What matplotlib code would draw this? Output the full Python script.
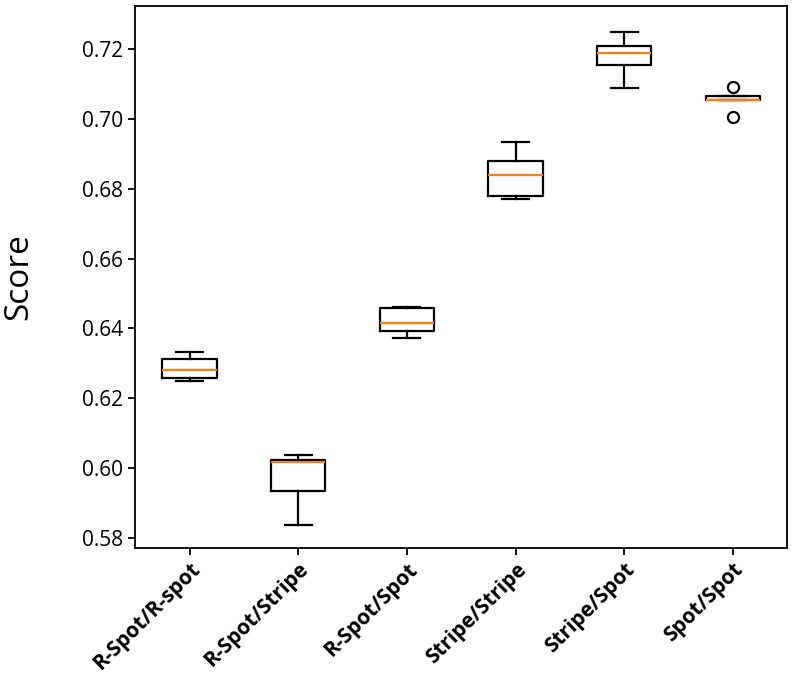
import matplotlib
matplotlib.use('Agg')
import matplotlib.pyplot as plt

# box statistics
labels = ['R-Spot/R-spot', 'R-Spot/Stripe', 'R-Spot/Spot', 'Stripe/Stripe', 'Stripe/Spot', 'Spot/Spot']
whislo = [0.6249, 0.5836, 0.6372, 0.6770, 0.7088, 0.7053]
q1 = [0.6259, 0.5934, 0.6391, 0.6778, 0.7153, 0.7053]
med = [0.6281, 0.6016, 0.6416, 0.6840, 0.7188, 0.7053]
q3 = [0.6311, 0.6023, 0.6458, 0.6879, 0.7210, 0.7066]
whishi = [0.6332, 0.6037, 0.6461, 0.6933, 0.7248, 0.7066]
fliers = [[], [], [], [], [], [0.7092, 0.7006]]

stats = []
for i in range(len(labels)):
    stats.append({'label': labels[i], 'whislo': whislo[i], 'q1': q1[i], 'med': med[i],
                  'q3': q3[i], 'whishi': whishi[i], 'fliers': fliers[i]})

plt.rcParams['font.family'] = ['Open Sans', 'DejaVu Sans']
plt.rcParams['axes.linewidth'] = 1.3

fig = plt.figure(figsize=(8, 6.77), dpi=100)
ax = fig.add_axes([0.169, 0.1906, 0.815, 0.8004])

lw = 1.6
ax.bxp(stats,
       boxprops=dict(linewidth=lw),
       whiskerprops=dict(linewidth=lw),
       capprops=dict(linewidth=lw),
       medianprops=dict(linewidth=lw, color='#ff7f0e'),
       flierprops=dict(marker='o', markersize=8, markeredgewidth=1.6,
                       markerfacecolor='none', markeredgecolor='black'))

ax.set_ylim(0.5771, 0.7323)
ax.set_xlim(0.5, 6.5)
ax.set_yticks([0.58, 0.60, 0.62, 0.64, 0.66, 0.68, 0.70, 0.72])
ax.tick_params(axis='both', width=1.3, length=5, labelsize=15)
ax.tick_params(axis='x', pad=3)
ax.set_xticklabels(labels, rotation=45, ha='right', rotation_mode='anchor',
                   fontsize=15, fontweight='bold')
ax.set_ylabel('Score', fontsize=24, labelpad=34)

plt.savefig('out.png', dpi=100)
plt.close('all')
